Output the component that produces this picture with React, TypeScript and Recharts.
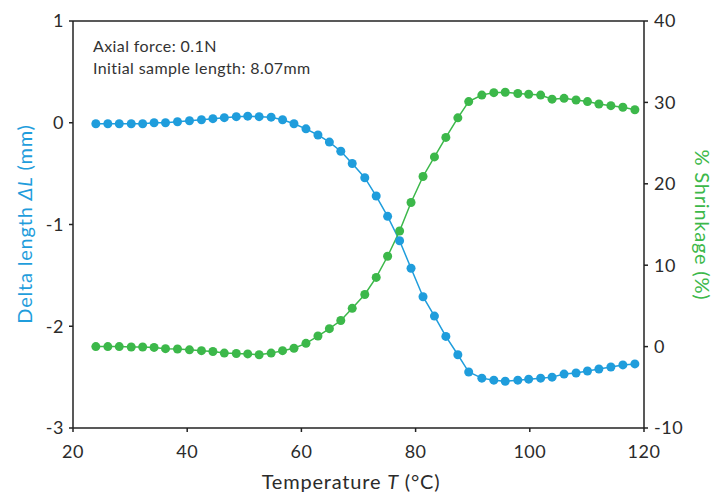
import React from 'react'
import {
  ComposedChart, Line, XAxis, YAxis, ReferenceLine,
} from 'recharts'

const temps = [
  24.0, 26.1, 28.1, 30.2, 32.2, 34.2, 36.2, 38.3, 40.4, 42.5, 44.5, 46.5,
  48.6, 50.6, 52.6, 54.7, 56.7, 58.7, 60.8, 62.9, 64.9, 66.9, 68.9, 71.1,
  73.1, 75.1, 77.2, 79.2, 81.3, 83.3, 85.3, 87.4, 89.3, 91.6, 93.7, 95.7,
  97.9, 99.8, 101.9, 103.9, 106.0, 108.1, 110.1, 112.1, 114.2, 116.3, 118.4,
]

// delta length (mm), left axis
const deltaLength = [
  -0.01, -0.01, -0.01, -0.01, -0.01, 0.0, 0.0, 0.01, 0.02, 0.03, 0.04, 0.05,
  0.06, 0.065, 0.06, 0.055, 0.03, -0.01, -0.06, -0.12, -0.19, -0.28, -0.4, -0.54,
  -0.72, -0.92, -1.16, -1.43, -1.71, -1.9, -2.1, -2.28, -2.45, -2.51, -2.53, -2.54,
  -2.53, -2.52, -2.51, -2.5, -2.47, -2.46, -2.44, -2.42, -2.4, -2.38, -2.37,
]

// shrinkage (%), right axis
const shrinkage = [
  0.0, 0.0, 0.0, -0.05, -0.05, -0.1, -0.25, -0.3, -0.4, -0.5, -0.6, -0.8,
  -0.85, -0.9, -1.0, -0.8, -0.5, -0.2, 0.4, 1.3, 2.2, 3.2, 4.7, 6.4,
  8.5, 11.1, 14.2, 17.7, 20.9, 23.3, 25.7, 28.1, 30.1, 30.9, 31.2, 31.25,
  31.1, 31.0, 30.9, 30.4, 30.5, 30.3, 30.1, 29.8, 29.6, 29.4, 29.1,
]

const xTicks = [20, 40, 60, 80, 100, 120]
const leftTicks = [-3, -2, -1, 0, 1]
const rightTicks = [-10, 0, 10, 20, 30, 40]

const notes = ['Axial force: 0.1N', 'Initial sample length: 8.07mm']

const data = temps.map((t, i) => ({ t, dl: deltaLength[i], sh: shrinkage[i] }))

const BLUE = '#1f9ddc'
const GREEN = '#3cb84a'
const INK = '#222'
const TXT = '#2b2b2b'
const FONT = 'Lato, "DejaVu Sans", sans-serif'

const tickStyle = { fill: TXT, fontSize: 18, fontFamily: FONT, letterSpacing: 0.5 }

export default function App() {
  return (
    <div style={{ position: 'absolute', left: 0, top: 0, width: 728, height: 495, background: '#fff' }}>
      <ComposedChart width={728} height={495} data={data}
        margin={{ top: 21, right: 24, bottom: 37, left: 13 }}>
        <XAxis dataKey="t" type="number" domain={[20, 120]} ticks={xTicks}
          tick={tickStyle} tickSize={4} tickMargin={13} height={30}
          axisLine={{ stroke: INK, strokeWidth: 1.5 }} tickLine={{ stroke: INK, strokeWidth: 1.5 }}
          label={{
            content: () => (
              <text x={351} y={489} textAnchor="middle" fill={TXT} fontSize={20} letterSpacing={0.8} fontFamily={FONT}>
                Temperature <tspan fontStyle="italic">T</tspan> (°C)
              </text>
            ),
          }} />
        <YAxis yAxisId="left" domain={[-3, 1]} ticks={leftTicks} width={60}
          tick={tickStyle} tickSize={4} tickMargin={5}
          axisLine={{ stroke: INK, strokeWidth: 1.5 }} tickLine={{ stroke: INK, strokeWidth: 1.5 }}
          label={{
            content: () => (
              <text x={32} y={224} transform="rotate(-90 32 224)" textAnchor="middle" fill={BLUE} fontSize={20} letterSpacing={0.8} fontFamily={FONT}>
                Delta length <tspan fontStyle="italic">ΔL</tspan> (mm)
              </text>
            ),
          }} />
        <YAxis yAxisId="right" orientation="right" domain={[-10, 40]} ticks={rightTicks} width={60}
          tick={tickStyle} tickSize={4} tickMargin={6}
          axisLine={{ stroke: INK, strokeWidth: 1.5 }} tickLine={{ stroke: INK, strokeWidth: 1.5 }}
          label={{
            content: () => (
              <text x={695} y={225} transform="rotate(90 695 225)" textAnchor="middle" fill={GREEN} fontSize={20} letterSpacing={0.8} fontFamily={FONT}>
                % Shrinkage (%)
              </text>
            ),
          }} />
        <ReferenceLine yAxisId="left" y={1} stroke={INK} strokeWidth={1.5} />
        <Line yAxisId="left" dataKey="dl" type="linear" stroke={BLUE} strokeWidth={1.5}
          dot={{ r: 4.5, fill: BLUE, stroke: BLUE, strokeWidth: 0 }} isAnimationActive={false} />
        <Line yAxisId="right" dataKey="sh" type="linear" stroke={GREEN} strokeWidth={1.5}
          dot={{ r: 4.5, fill: GREEN, stroke: GREEN, strokeWidth: 0 }} isAnimationActive={false} />
        {notes.map((n, i) => (
          <text key={n} x={93} y={52 + i * 22} fill="#333" fontSize={16} letterSpacing={0.4} fontFamily={FONT}>{n}</text>
        ))}
      </ComposedChart>
    </div>
  )
}
